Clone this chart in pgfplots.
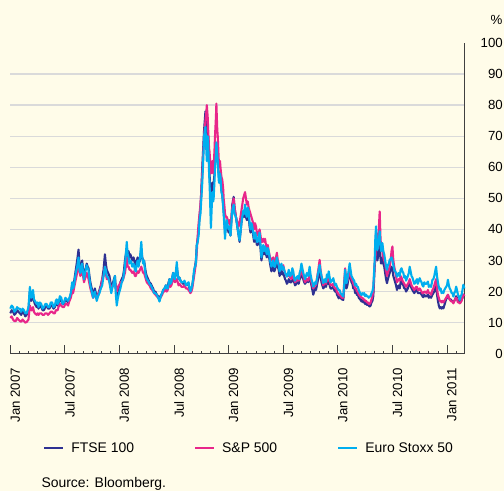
\documentclass[border=0pt]{standalone}
\usepackage{pgfplots}
\pgfplotsset{compat=1.18}
\usepackage{pgfplotstable}
\usepackage{fontspec}
\setmainfont{Liberation Sans}
\definecolor{bgc}{RGB}{255,252,233}
\definecolor{gridc}{RGB}{218,218,218}
\definecolor{ftsec}{RGB}{46,49,146}
\definecolor{spc}{RGB}{232,38,138}
\definecolor{euroc}{RGB}{0,174,239}
\pgfplotstableread{
x f s e
0 13 11.5 14.5
0.15 14 12 15.5
0.3 13.5 11 15
0.45 12.5 10.5 13.5
0.6 13 10.5 14
0.75 14 11.5 15
0.9 13.5 11 14.5
1.05 13 10.5 14.5
1.2 12.5 10.3 13.5
1.35 13.5 11 14.5
1.5 13 10.5 14
1.65 12 10 13
1.8 12.5 10.2 13
2.0 14 11 15
2.15 20 15.5 21.5
2.3 17 14 18
2.4 18 14 19
2.5 19 15 20.5
2.6 17 13.5 17.5
2.7 16 13 17
2.9 15 12.5 16
3.0 15.5 13 16.5
3.1 14.5 12.5 15
3.25 15.5 13 16.5
3.4 15 13 16
3.55 14 12.5 14.5
3.7 14 12.5 15
3.85 15 13 16
4.0 15.5 13 16
4.15 14.5 12.5 15
4.3 14.5 13 15
4.45 15.5 13.5 16.5
4.6 15.5 13.5 16.5
4.75 14.5 13 15
4.9 15 13 15.5
5.0 16 14 17
5.1 16.5 14 17.5
5.2 15.5 14 16
5.3 16 15 16.5
5.45 17.5 16 18.5
5.6 17 15.5 18
5.75 16 15 16
5.9 16 15 16.5
6.05 17.5 16 18
6.2 17 16 17.5
6.35 16.5 15.5 17
6.5 17.5 17 18
6.65 19 18 19.5
6.8 22 20 23
6.9 21 19.5 21
7.0 23 21 22
7.1 25 22.5 24
7.2 27 24 26
7.35 30 26 28
7.5 33.5 30 31
7.6 29 27 27
7.7 27 25 26
7.8 28.5 26 28
7.9 30 27 29
8.0 27 25 26
8.1 25 23 24
8.25 27 24.5 26.5
8.4 29 26 28.5
8.5 28 25 27.5
8.6 27.5 24 27
8.7 25 22.5 24
8.8 23 21 22
8.95 21 19.5 20
9.1 19 18 18
9.2 20 18.5 19.5
9.3 21 19 20
9.4 19.5 18.5 18.5
9.5 18 18 17
9.65 19 19 18.5
9.8 20.5 20 19.5
9.95 22 21.5 21
10.1 24 24 22
10.25 27 25 25
10.4 32 28 28
10.5 29 26 27
10.6 27 24 25
10.75 26 24.5 24.5
10.9 25 23 23
11.0 23 22 21
11.1 21 21 19.5
11.2 22 21.5 21
11.3 23 22 22
11.4 24 22.5 23.5
11.5 25 23 25
11.6 21 21 19
11.7 18 20 15.5
11.8 19.5 21 17.5
11.9 21 22 19
12.0 22 22 20
12.1 23 23 21
12.25 24 23 23
12.4 25 24 24
12.5 27 25 26
12.6 30 26 28
12.7 32 28 32
12.8 34 31 36
12.9 31 28 32
13.0 33 28 31
13.1 31 27 29
13.2 32 27 30
13.3 31 26.5 29.5
13.4 30 26 28
13.55 31 26.5 29
13.7 29 25 27
13.8 28 25 26.5
13.9 30 26 29
14.0 31 26.5 30
14.1 29 26 28
14.25 30 27 31
14.4 33 28 36
14.5 31 27 31
14.6 30 26 29
14.7 30 26 30
14.8 28 25 27
14.9 26 24 25
15.0 25 23 24
15.15 24 22.5 23.5
15.3 23 22 22.5
15.45 22.5 21 22
15.6 21.5 20.5 21
15.7 21 20 20.5
15.8 20 19.5 19.5
15.95 20 19 19.5
16.1 19 18.5 19
16.25 18.5 18 18
16.4 17.5 17.5 16.8
16.5 18.5 18 18
16.6 19 18.5 19
16.7 19.5 19 19.5
16.8 20.5 20 20.5
16.95 21 20 21
17.1 22 21 22
17.2 21 20 21
17.3 21.5 20.5 21
17.4 23 21.5 22.5
17.5 24 22.5 24
17.6 22.5 21.5 22.5
17.7 23.5 22 23
17.8 24.5 23 24.5
17.9 26 25 26
18.0 25 24 25
18.1 24.5 23 24
18.2 26 23.5 26.5
18.3 28 24 29.5
18.4 25.5 23 25.5
18.5 24 22 24
18.6 24.5 22.5 24.5
18.7 23.5 22 23.5
18.85 23 21.5 23
19.0 22.5 21.5 23
19.15 23 22 23.5
19.3 22 21 22
19.45 22.5 21 22.5
19.6 22 20.5 23
19.7 21 20 21
19.8 20 19.5 20
19.9 21 20 21
20.0 22 21 22
20.1 24 23 24
20.2 26 25 27
20.3 28 27 28
20.4 30 29 29
20.5 35 33 35
20.6 37 38 36
20.7 40 42 38
20.8 44 45 43
20.9 47 48 45
21.0 53 52 50
21.1 60 58 55
21.2 66 64 62
21.3 72 70 70
21.45 78 75 73
21.55 72 78 65
21.6 74 80 62
21.7 68 76 70
21.75 70 72 68
21.85 62 66 58
21.9 58 65 55
22.05 48 58 40.5
22.15 53 60 48
22.2 55 62 52
22.3 53 58 49
22.35 55 60 50
22.45 58 66 56
22.5 62 70 60
22.6 64 76 64
22.65 66 80.5 68
22.75 63 72 64
22.8 62 70 62
22.9 58 63 56
22.95 57 60 55
23.05 58 62 58
23.1 56 60 57
23.2 53 57 52
23.3 51 56 51
23.4 48 53 47
23.45 46 50 45
23.55 42 47 40
23.6 39 45 37
23.7 41 44 41
23.8 42 44 43
23.9 40 43 41
24.0 39 42 40
24.1 40 43 41
24.2 38 41 38
24.3 43 44 42
24.4 48 47 46
24.55 50.5 50 48
24.65 47 47 45
24.8 44 44 44
24.9 42 43 42
25.0 40 42 40
25.1 38 41 38
25.2 36 42 36.5
25.3 39 44 39
25.4 42 46 42
25.5 44 48 44
25.6 45 50 46
25.7 44 51 45
25.8 46 52 48
25.9 44 50 45
26.0 43 48 44
26.1 45 49 47
26.2 44 47 46
26.3 41 46 42
26.4 39 45 40
26.5 41 44 42
26.6 40 43 41
26.7 38 42 39
26.8 36 40 37
26.9 38 42 39
27.0 37 41 38
27.1 35 39 36
27.2 35 38 36
27.3 36.5 39 37.5
27.4 38 40 39
27.5 34 38 35
27.6 30 36 31
27.7 32 36 33
27.8 34 37 35
27.9 32 36 33
28.0 33 37 34.5
28.1 32 35 33
28.2 31 34 32
28.3 33 35 34
28.4 32 33 33
28.55 29 31 30
28.7 26.5 30 28
28.8 27.5 30.5 29
28.9 28 31 30
29.0 26.5 29.5 28
29.1 27 29 28
29.2 28.5 31 29.5
29.3 30 32.5 31
29.4 28 30 29.5
29.5 27 29 28.5
29.6 25 27.5 26.5
29.7 26 27.5 27.5
29.8 27 28 29
29.9 25.5 27 27
30.0 26 28.5 28
30.1 25 27 27
30.2 24 26 26
30.3 23.5 25.5 25.5
30.4 22.5 25 24.8
30.5 23 25 25.5
30.6 24 25.5 27
30.75 23 24.5 25
30.9 23 24 25.5
31.0 24.5 25.5 27.5
31.1 24 25 26.5
31.2 23 24 24.5
31.3 22 23 23.5
31.45 22.5 23.5 24.5
31.6 23 24 25
31.7 22.5 23.5 24
31.8 24 25 26
31.9 24.5 25.5 27
32.0 26 27 29
32.1 25 26 27.5
32.2 24 25 26
32.3 23 24 25
32.4 22.5 23 24
32.5 23 23.5 25
32.6 24 24 26
32.75 23 23.5 25
32.9 25 26 28
33.0 23.5 24.5 25.5
33.1 22 23 24
33.2 20.5 22 23
33.3 19 21 21.6
33.4 20 21.5 22
33.5 21 22 23
33.6 20.5 22 22.5
33.7 22 24 24
33.8 23.5 26 25.5
33.9 25 28 27
34.0 27 30.2 28.6
34.1 25 27 26.5
34.2 23 25 25
34.3 22 23.5 24
34.4 21 22 22.7
34.5 21.5 22.5 23.5
34.6 22 23 24
34.7 21.5 22.5 23
34.8 23 24 25.5
34.9 22.5 23.5 24.5
35.0 23.5 25 26.5
35.1 22 23.5 24.5
35.2 21 22 23
35.35 21 22 23.5
35.5 21.5 22.5 24.3
35.6 20.5 21.5 23
35.7 20 21 22
35.8 20.5 21 22.5
35.9 19 20 21.5
36.0 18.5 19.5 21
36.1 17.8 19 20.5
36.2 18.5 19 20.5
36.3 18 18.5 19.5
36.45 17.5 18 19
36.6 17.3 18 18.4
36.7 21 23 22
36.8 25 27.5 27
36.9 23 24.5 24
36.95 21 23 22.7
37.05 22 23.5 24
37.1 23 24 25
37.2 24.5 25.5 27
37.3 26 27 29.1
37.4 24.5 25.5 27
37.5 23 24 25
37.6 22.5 23.5 24.5
37.7 21 22.5 23.8
37.8 21.5 22 23.5
37.9 19.5 21 22
38.0 20 21 22.5
38.1 18.9 20 21.6
38.2 19 20 21.5
38.3 18 19 20.5
38.45 17.5 18.5 19.5
38.6 16.8 18 18.9
38.7 17.5 18 19.5
38.8 16.5 17.5 19
38.9 17 17.5 19.5
39.0 16 17 18.5
39.1 16.5 17 19
39.2 15.7 16.5 18.4
39.3 16 16.5 18.5
39.4 15.5 16 18
39.5 15.2 16 18.4
39.6 15.5 16.5 18.5
39.7 16.5 17.5 19.5
39.8 17 18.5 20
39.9 18.5 20.5 21.6
40.05 28 29 30
40.12 31 30 37
40.2 36 38.8 41
40.28 32 37 36
40.35 30 36 33.4
40.45 32 38 36
40.5 32 40 36
40.6 35 45.8 39.4
40.68 31 38 35
40.75 29 34 33
40.85 30 33 35
40.9 31 33 35.6
41.0 29 31 33
41.1 28 30 32
41.2 26 29 30
41.3 24 27 28
41.4 22.7 25 27
41.5 24 26 28.5
41.6 25 27 29
41.7 26 28 30.2
41.8 27 30 30.5
41.9 28 33 31
42.0 27 34.5 30
42.1 25 30 28.5
42.2 24 28 27
42.3 23 26.5 26.5
42.4 22 25 26
42.5 20.5 23 24.8
42.6 21.5 23.5 25.5
42.7 22 24 26
42.8 21 23.5 25
42.9 23 25 27
43.0 23.5 24.5 27.5
43.1 22.5 23.5 26.5
43.2 22 23 26
43.3 21 22.5 24.5
43.4 21 22 25
43.5 20 21.5 23.5
43.6 20.5 22 24.3
43.7 21 22.5 25
43.8 22 23 26
43.9 23 24 28
44.0 22 23 26.5
44.1 21 22 25
44.2 20.5 21.5 24.5
44.3 20 21 23.5
44.4 19.5 20.5 22.5
44.5 20 21 22.7
44.6 20.5 21.5 23.5
44.7 20.5 21.5 24
44.8 19.5 20.5 22.5
44.9 19.5 20.5 23.5
45.0 19.5 21 24.3
45.1 19.5 20.5 23.5
45.2 19 20 23
45.3 18.5 19.5 22
45.4 18.2 19.5 21.6
45.5 19 20 23
45.6 18.5 20 22.5
45.75 18.5 19.5 22.5
45.9 19 20.5 23.2
46.0 18 19.5 21.5
46.1 18.5 19.5 22
46.25 18 19 21.5
46.4 19 20.5 23.8
46.5 19.5 21 24
46.6 20 22 25
46.7 21 23 26.5
46.8 22 24 28
46.9 19 21 25
47.0 17 19 23
47.1 15.5 18 21.5
47.2 14.6 17 20.5
47.3 15 17 21
47.4 14.5 16.5 19.5
47.5 15 17 20
47.6 14.6 16.5 19.5
47.7 15.5 17 20.5
47.8 16.5 17.5 21
47.9 17.5 18 21.5
48.0 18 18.5 22
48.1 18.9 19 23.8
48.2 18 18 22
48.3 17.5 17.5 21
48.4 17.5 17 20.5
48.5 17 16.8 19.5
48.6 17 16.8 19.5
48.7 16.5 16.2 18.4
48.8 17 17 19.5
48.9 17.5 17.5 20
49.0 18.5 18 21.6
49.1 18 17.5 20.5
49.2 17 16.5 19
49.3 17 16.5 18.5
49.4 16.5 16.2 17.3
49.5 17 16.5 18.5
49.6 17.5 17 19
49.7 18 18 20.5
49.8 19 19 22.2
49.9 18.5 18.5 21
}\data
\begin{document}
\begin{tikzpicture}
\useasboundingbox (0,0) rectangle (504bp,491bp);
\fill[bgc] (0,0) rectangle (504bp,491bp);
\begin{axis}[
  at={(10.3bp,137.3bp)}, anchor=south west,
  scale only axis, width=454bp, height=310.7bp,
  xmin=0, xmax=49.9, ymin=0, ymax=100,
  axis x line=bottom, axis y line=right,
  axis line style={-, draw=black!75, line width=0.8bp},
  font=\fontsize{13.3}{15}\selectfont,
  /pgf/number format/assume math mode=true,
  xtick={0,6,...,48},
  xticklabels={Jan 2007,Jul 2007,Jan 2008,Jul 2008,Jan 2009,Jul 2009,Jan 2010,Jul 2010,Jan 2011},
  minor xtick={1,2,3,4,5,7,8,9,10,11,13,14,15,16,17,19,20,21,22,23,25,26,27,28,29,31,32,33,34,35,37,38,39,40,41,43,44,45,46,47,49},
  tick align=inside,
  xtick style={draw=black!75, line width=0.8bp},
  x tick style={/pgfplots/major tick length=9bp, /pgfplots/minor tick length=3bp},
  xticklabel style={rotate=90, anchor=north east, inner sep=0pt},
  xticklabel shift=14bp,
  ytick={10,20,...,90},
  extra y ticks={0,100},
  extra y tick style={grid=none},
  ytick style={draw=none},
  ymajorgrids,
  grid style={gridc, line width=1.3bp},
  yticklabel style={anchor=east, inner sep=0pt, xshift=38.7bp},
  clip=false,
  legend columns=3,
  legend style={at={(0,0)}, anchor=west, xshift=32.7bp, yshift=-94.3bp,
    draw=none, fill=none, inner sep=0pt,
    font=\fontsize{14}{16}\selectfont,
    nodes={inner sep=0pt},
    /tikz/every odd column/.append style={column sep=7bp},
    /tikz/every even column/.append style={column sep=60bp}},
  legend image code/.code={\draw[#1] (0bp,0bp) -- (19bp,0bp);},
  every axis plot/.append style={line width=2.1bp, line join=round},
]
\addplot[ftsec] table[x=x,y=f]{\data};
\addlegendentry{FTSE 100}
\addplot[spc] table[x=x,y=s]{\data};
\addlegendentry{S\&P 500}
\addplot[euroc] table[x=x,y=e]{\data};
\addlegendentry{Euro Stoxx 50}
\end{axis}
\node[anchor=east, inner sep=0pt, font=\fontsize{13.3}{15}\selectfont] at (502.5bp,471bp) {\%};
\node[anchor=base west, inner sep=0pt, font=\fontsize{14}{16}\selectfont] at (41.3bp,4bp) {Source: Bloomberg.};
\end{tikzpicture}
\end{document}
